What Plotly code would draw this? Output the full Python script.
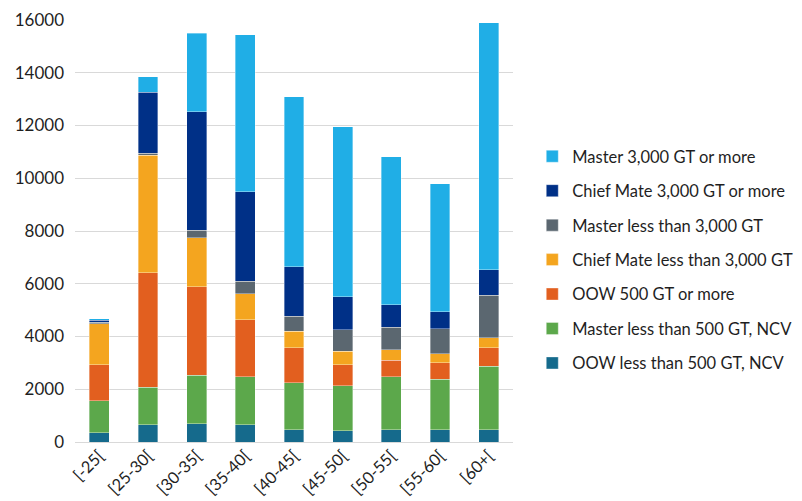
import plotly.graph_objects as go

categories = ["[-25[", "[25-30[", "[30-35[", "[35-40[", "[40-45[", "[45-50[", "[50-55[", "[55-60[", "[60+["]

oow_lt500 = [350, 660, 700, 660, 470, 420, 470, 470, 470]
master_lt500 = [1220, 1410, 1830, 1810, 1780, 1720, 2000, 1900, 2410]
oow_500 = [1360, 4340, 3360, 2160, 1320, 780, 630, 630, 690]
chief_lt3000 = [1560, 4470, 1850, 1000, 630, 520, 400, 340, 390]
master_lt3000 = [50, 70, 290, 470, 570, 810, 860, 960, 1610]
chief_3000 = [80, 2320, 4490, 3390, 1870, 1250, 850, 630, 970]
master_3000 = [60, 570, 2970, 5950, 6450, 6450, 5600, 4860, 9360]

series = [
    ("OOW less than 500 GT, NCV", oow_lt500, "#156A8C"),
    ("Master less than 500 GT, NCV", master_lt500, "#5CA84B"),
    ("OOW 500 GT or more", oow_500, "#E25F1F"),
    ("Chief Mate less than 3,000 GT", chief_lt3000, "#F4A51F"),
    ("Master less than 3,000 GT", master_lt3000, "#5B6770"),
    ("Chief Mate 3,000 GT or more", chief_3000, "#003087"),
    ("Master 3,000 GT or more", master_3000, "#20AEE6"),
]

fig = go.Figure()
n = len(series)
for i, (name, vals, color) in enumerate(series):
    fig.add_trace(go.Bar(
        x=categories, y=vals, name=name, legendgroup=f"g{i}",
        legendrank=n - i,
        marker=dict(color=color, line=dict(width=0.6, color="rgba(255,255,255,0.6)")),
    ))

font_family = "Lato, 'Open Sans', sans-serif"
fig.update_layout(
    barmode="stack",
    bargap=0.59,
    width=802, height=501,
    margin=dict(l=67, r=277, t=12, b=67),
    paper_bgcolor="white", plot_bgcolor="white",
    font=dict(family=font_family, size=15, color="#1F1F1F"),
    legend=dict(
        x=1.044, y=0.718, xanchor="left", yanchor="top",
        traceorder="grouped", tracegroupgap=10,
        font=dict(size=16.5, color="#1F1F1F"),
        itemwidth=30,
    ),
    yaxis=dict(
        range=[0, 16000], dtick=2000, tickformat="d", showgrid=True, gridcolor="#D9D9D9", gridwidth=1,
        zeroline=True, zerolinecolor="#D9D9D9", zerolinewidth=1, showline=False,
        tickfont=dict(size=17), ticks="", ticklen=0, automargin=False, ticklabelstandoff=10,
    ),
    xaxis=dict(
        tickangle=-45, showline=False, ticks="", tickfont=dict(size=16.5), automargin=False,
    ),
)

fig.write_html("out.html")
